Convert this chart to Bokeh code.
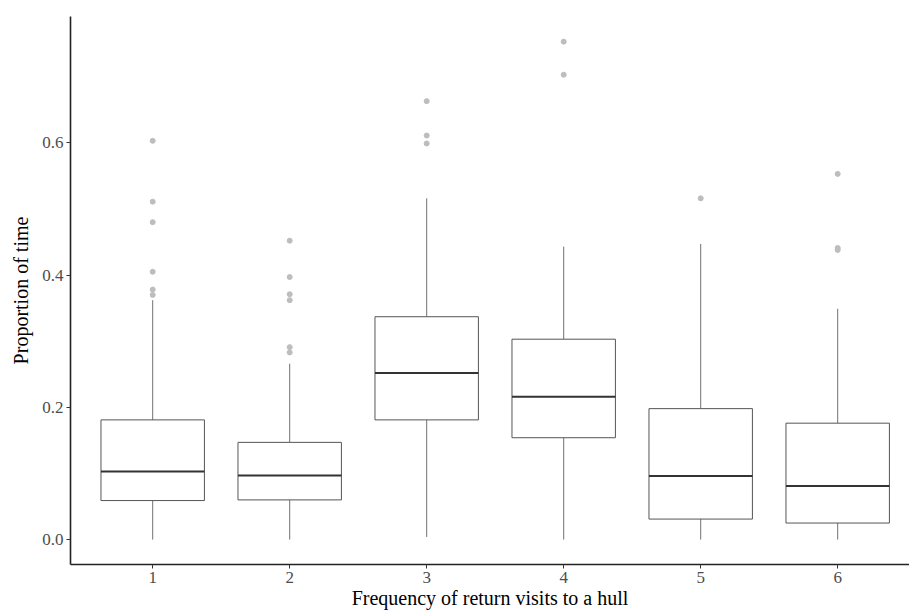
from bokeh.plotting import figure
from bokeh.models import FixedTicker, Range1d, CustomJSTickFormatter
from bokeh.embed import file_html
from bokeh.resources import INLINE

# ---- data ----
groups = [1, 2, 3, 4, 5, 6]
q1 = [0.059, 0.060, 0.181, 0.154, 0.031, 0.025]
median = [0.103, 0.097, 0.252, 0.216, 0.096, 0.081]
q3 = [0.181, 0.147, 0.337, 0.303, 0.198, 0.176]
whisker_low = [0.0, 0.0, 0.004, 0.0, 0.0, 0.0]
whisker_high = [0.362, 0.266, 0.516, 0.443, 0.447, 0.349]
outlier_group = [1, 1, 1, 1, 1, 1,
                 2, 2, 2, 2, 2, 2,
                 3, 3, 3,
                 4, 4,
                 5,
                 6, 6, 6]
outlier_value = [0.603, 0.511, 0.480, 0.405, 0.378, 0.370,
                 0.452, 0.397, 0.371, 0.362, 0.291, 0.283,
                 0.663, 0.611, 0.599,
                 0.753, 0.703,
                 0.516,
                 0.553, 0.441, 0.438]
y_ticks = [0.0, 0.2, 0.4, 0.6]
x_title = "Frequency of return visits to a hull"
y_title = "Proportion of time"

FONT = "Liberation Serif"
half = 0.3775

p = figure(width=909, height=613, output_backend="svg", toolbar_location=None,
           x_range=Range1d(0.4, 0.4 + 839 / 137.0),
           y_range=Range1d(-0.0377, 0.791),
           min_border_left=70, min_border_right=0, min_border_top=16,
           min_border_bottom=49)
p.grid.visible = False
p.outline_line_color = None
p.background_fill_color = "white"
p.border_fill_color = "white"

left = [g - half for g in groups]
right = [g + half for g in groups]

# whiskers
p.segment(x0=groups, y0=q3, x1=groups, y1=whisker_high, line_color="#707070", line_width=1)
p.segment(x0=groups, y0=q1, x1=groups, y1=whisker_low, line_color="#707070", line_width=1)
# boxes
p.quad(left=left, right=right, bottom=q1, top=q3, fill_color="white",
       line_color="#555555", line_width=1)
# medians
p.segment(x0=left, y0=median, x1=right, y1=median, line_color="#333333", line_width=2)
# outliers
p.scatter(x=outlier_group, y=outlier_value, size=5, fill_color="#bdbdbd",
          line_color="#bdbdbd", marker="circle")

for ax in (p.xaxis[0], p.yaxis[0]):
    ax.axis_line_color = "#222222"
    ax.axis_line_width = 1.6
    ax.major_tick_line_color = "#333333"
    ax.major_tick_line_width = 1
    ax.major_tick_out = 4
    ax.major_tick_in = 0
    ax.minor_tick_line_color = None
    ax.major_label_text_font = FONT
    ax.major_label_text_font_size = "17px"
    ax.major_label_text_color = "#4d4d4d"
    ax.major_label_standoff = 3
    ax.axis_label_text_font = FONT
    ax.axis_label_text_font_size = "20px"
    ax.axis_label_text_font_style = "normal"
    ax.axis_label_text_color = "black"

p.xaxis.ticker = FixedTicker(ticks=groups)
p.yaxis.ticker = FixedTicker(ticks=y_ticks)
p.yaxis.formatter = CustomJSTickFormatter(code="return tick.toFixed(1);")

p.yaxis.axis_label = y_title
p.yaxis.axis_label_standoff = 7
p.xaxis.axis_label = x_title
p.xaxis.axis_label_standoff = 1

open("out.html", "w").write(file_html(p, INLINE))
